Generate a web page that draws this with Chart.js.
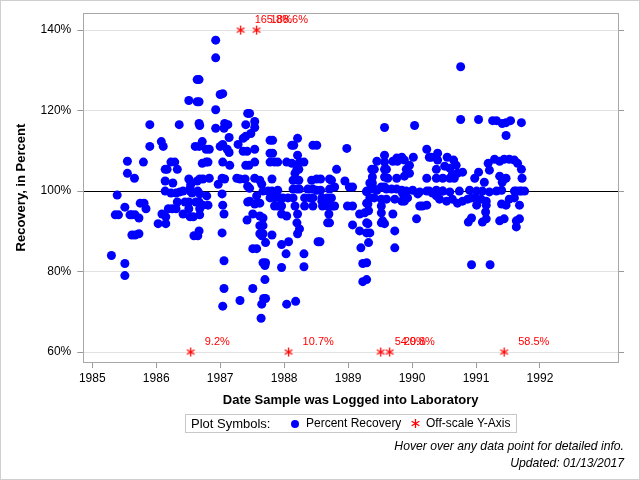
<!DOCTYPE html>
<html>
<head>
<meta charset="utf-8">
<script src="https://cdn.jsdelivr.net/npm/chart.js@4/dist/chart.umd.min.js"></script>
<style>
  body { margin: 0; background: #fff; font-family: "Liberation Sans", Arial, sans-serif; }
  #wrap { position: relative; width: 640px; height: 480px; overflow: hidden; }
  #chart { position: absolute; left: 0; top: 0; }
  #frame { position: absolute; left: 0; top: 0; width: 638px; height: 478px; border: 1px solid #cfcfcf; pointer-events: none; }
  #legend { position: absolute; left: 185px; top: 414px; width: 330px; height: 17px; border: 1px solid #c8c8c8;
            font-size: 12px; line-height: 17px; white-space: nowrap; }
  #legend span { position: absolute; top: 0; }
  #legend .dot { width: 8px; height: 8px; border-radius: 50%; background: #0000ff; top: 5px; }
  #legend canvas { position: absolute; top: 3px; }
  .note { position: absolute; right: 16px; font-size: 12.2px; font-style: italic; color: #000; }
</style>
</head>
<body>
<div id="wrap">
  <canvas id="chart" width="640" height="480"></canvas>
  <div id="legend">
    <span style="left:5px; font-size:13px">Plot Symbols:</span>
    <span class="dot" style="left:105px"></span>
    <span style="left:120px">Percent Recovery</span>
    <canvas id="legAst" width="11" height="11" style="left:224px"></canvas>
    <span style="left:240px">Off-scale Y-Axis</span>
  </div>
  <div class="note" style="top:439px">Hover over any data point for detailed info.</div>
  <div class="note" style="top:456px">Updated: 01/13/2017</div>
  <div id="frame"></div>
</div>
<script>
// Sample log date (decimal year) and percent recovery
const logDates = [
  1985.30, 1985.39, 1985.36, 1985.41, 1985.51, 1985.51, 1985.51, 1985.62, 1985.67, 1985.73,
  1985.62, 1985.67, 1985.73, 1985.75, 1985.81, 1985.84, 1985.55, 1985.55, 1985.66, 1985.80,
  1985.90, 1985.90, 1985.59,
  1986.03, 1986.15, 1986.09, 1986.15, 1986.08, 1986.11, 1986.14, 1986.17, 1986.23, 1986.29,
  1986.33, 1986.14, 1986.26, 1986.36, 1986.14, 1986.23, 1986.31, 1986.37, 1986.42, 1986.19,
  1986.25, 1986.31, 1986.33, 1986.42, 1986.45, 1986.51,
  1986.51, 1986.64, 1986.67, 1986.64, 1986.67, 1986.67, 1986.68, 1986.61, 1986.67, 1986.72,
  1986.78, 1986.83, 1986.72, 1986.78, 1986.81, 1986.51, 1986.54, 1986.64, 1986.68, 1986.73,
  1986.83, 1986.53, 1986.65, 1986.53, 1986.56, 1986.68, 1986.79, 1986.51, 1986.53, 1986.58,
  1986.68, 1986.68, 1986.73, 1986.81, 1986.62, 1986.67, 1986.67, 1986.59, 1986.65,
  1986.93, 1986.93, 1987.00, 1987.04, 1986.93, 1986.93, 1987.07, 1987.12, 1987.06, 1987.14,
  1987.00, 1987.04, 1987.11, 1987.14, 1987.04, 1987.15, 1986.97, 1987.03, 1987.07, 1987.03,
  1987.26, 1987.31, 1987.39, 1987.28, 1987.36, 1987.40, 1987.36, 1987.42, 1987.40, 1987.43,
  1987.40, 1987.45, 1987.43, 1987.04, 1987.06, 1987.03, 1987.06, 1987.06, 1987.04, 1987.31,
  1987.43, 1987.42,
  1987.46, 1987.54, 1987.54, 1987.48, 1987.78, 1987.82, 1988.21, 1988.12, 1988.15, 1988.45,
  1988.51, 1988.98, 1989.57, 1987.54, 1987.78, 1987.82, 1988.21, 1987.54, 1987.78, 1987.85,
  1987.90, 1988.04, 1988.12, 1988.24, 1988.31, 1988.20, 1988.23, 1988.17, 1988.82, 1987.54,
  1987.62, 1987.65, 1987.81, 1988.14, 1988.23, 1988.43, 1988.51, 1988.57, 1988.71, 1988.74,
  1988.95, 1989.02, 1989.07, 1987.67, 1987.75, 1987.81, 1987.90, 1988.14, 1988.20, 1988.24,
  1988.37, 1988.45, 1988.51, 1988.57, 1988.71, 1988.79, 1987.46, 1987.57, 1987.54, 1987.62,
  1987.46, 1987.78, 1987.85, 1987.93, 1987.98, 1988.06, 1988.14, 1987.85, 1987.90, 1987.96,
  1988.17, 1988.32, 1988.45, 1988.60, 1988.68, 1988.76, 1988.79, 1988.32, 1988.40, 1988.45,
  1988.59, 1988.67, 1988.74, 1988.59, 1988.71, 1987.51, 1987.62, 1987.67, 1987.62, 1987.67,
  1987.62, 1987.67, 1987.65, 1987.81, 1987.71, 1987.51, 1987.57, 1987.96, 1988.04, 1988.21,
  1988.20, 1988.24, 1988.21, 1988.07, 1987.96, 1988.03, 1988.31, 1987.96, 1988.31, 1988.53,
  1988.56, 1988.70, 1988.68, 1988.71, 1987.67, 1987.71, 1987.70, 1987.70, 1987.51, 1987.68,
  1987.71, 1987.65, 1988.04, 1988.18, 1987.64, 1988.99, 1989.07,
  1989.45, 1989.57, 1989.57, 1989.70, 1989.76, 1989.77, 1989.37, 1989.41, 1989.57, 1989.60,
  1989.38, 1989.57, 1989.62, 1989.34, 1989.38, 1989.52, 1989.57, 1989.76, 1989.29, 1989.37,
  1989.41, 1989.68, 1989.76, 1989.29, 1989.45, 1989.60, 1989.34, 1989.41, 1989.52, 1989.60,
  1989.73, 1989.29, 1989.31, 1989.52, 1989.52, 1989.54, 1989.52, 1989.57, 1989.18, 1989.26,
  1989.32, 1989.07, 1989.18, 1989.29, 1989.31, 1989.29, 1989.34, 1989.32, 1989.20, 1989.23,
  1989.29, 1989.23, 1989.29, 1989.70, 1989.73, 1989.73,
  1990.04, 1990.76, 1990.76, 1991.04, 1991.26, 1991.32, 1991.41, 1991.47, 1991.54, 1991.71,
  1991.47, 1990.23, 1990.27, 1990.30, 1990.40, 1990.40, 1990.55, 1990.65, 1990.02, 1989.88,
  1989.96, 1989.84, 1990.38, 1990.51, 1990.59, 1990.69, 1990.63, 1990.71, 1990.79, 1989.91,
  1989.96, 1989.88, 1990.23, 1990.38, 1990.48, 1990.59, 1990.66, 1991.04, 1990.98, 1991.13,
  1991.21, 1991.19, 1991.29, 1991.37, 1991.44, 1991.52, 1991.60, 1991.65, 1991.71, 1991.72,
  1991.37, 1991.47, 1991.41,
  1989.84, 1989.91, 1990.01, 1990.12, 1990.27, 1990.38, 1990.48, 1990.59, 1990.74, 1990.90,
  1991.01, 1991.10, 1991.21, 1991.32, 1991.40, 1991.60, 1991.68, 1991.76,
  1989.85, 1989.88, 1989.84, 1989.93, 1990.09, 1990.23, 1990.12, 1990.16, 1990.23, 1990.07,
  1990.43, 1990.54, 1990.63, 1990.71, 1990.79, 1990.87, 1990.93, 1991.01, 1991.08, 1991.16,
  1991.01, 1991.16, 1991.15, 1991.16, 1991.10, 1990.93, 1990.88, 1991.40, 1991.47, 1991.52,
  1991.60, 1991.63, 1991.71, 1991.68, 1991.37, 1991.44, 1991.63, 1991.68, 1991.63, 1990.93,
  1991.22, 1990.32, 1990.38, 1990.48
];
const recovery = [
  84.0, 99.0, 94.1, 94.1, 96.0, 82.0, 79.0, 94.1, 94.1, 93.3,
  89.1, 89.1, 89.4, 97.0, 97.0, 95.6, 107.4, 104.4, 103.2, 107.2,
  116.5, 111.1, 94.1,
  91.9, 91.9, 94.3, 93.6, 112.3, 111.1, 105.4, 105.4, 107.2, 107.2,
  105.4, 102.5, 102.0, 116.5, 100.0, 99.5, 99.5, 99.8, 100.0, 95.6,
  95.6, 95.6, 97.3, 94.3, 97.3, 97.3,
  122.5, 127.7, 127.7, 122.2, 122.2, 116.8, 116.3, 111.1, 111.1, 112.3,
  110.4, 110.4, 106.9, 107.2, 107.2, 103.0, 101.7, 102.5, 103.0, 103.0,
  103.2, 100.0, 100.0, 100.7, 99.5, 99.3, 98.8, 95.6, 93.6, 93.6,
  94.1, 95.6, 96.5, 96.5, 97.3, 97.3, 90.1, 88.9, 88.9,
  137.5, 133.1, 124.0, 124.2, 120.2, 115.6, 116.8, 116.5, 115.6, 113.3,
  111.1, 111.6, 110.4, 109.6, 107.2, 106.4, 101.7, 103.2, 103.0, 99.3,
  103.2, 103.0, 103.0, 111.6, 113.1, 113.6, 109.9, 109.9, 116.5, 119.3,
  106.4, 106.4, 101.2, 96.5, 94.3, 89.6, 82.7, 75.8, 71.4, 72.8,
  97.3, 92.8,
  119.3, 117.3, 115.8, 114.3, 112.6, 112.6, 113.1, 111.4, 111.4, 111.4,
  111.4, 110.6, 115.8, 110.4, 109.4, 109.4, 108.9, 107.2, 107.2, 107.2,
  107.2, 107.2, 106.9, 107.2, 107.2, 105.4, 105.4, 104.4, 105.4, 103.2,
  102.7, 101.7, 103.0, 102.7, 102.7, 102.7, 103.0, 103.0, 103.0, 102.7,
  102.5, 101.0, 101.0, 100.0, 100.0, 100.0, 100.2, 100.5, 100.5, 100.5,
  100.5, 100.5, 100.2, 100.2, 100.5, 101.0, 100.7, 98.8, 96.8, 97.0,
  97.5, 98.3, 98.3, 98.3, 98.3, 98.3, 98.3, 96.3, 96.3, 96.3,
  96.3, 96.3, 96.3, 96.3, 96.3, 96.3, 96.3, 98.3, 98.3, 98.3,
  98.3, 98.3, 98.3, 97.5, 97.0, 94.3, 93.8, 93.3, 91.4, 91.4,
  89.4, 89.4, 88.9, 89.1, 87.2, 85.7, 85.7, 94.3, 93.8, 94.3,
  92.1, 90.6, 89.4, 87.4, 86.7, 84.4, 84.4, 81.0, 81.2, 87.4,
  87.4, 94.3, 92.1, 92.1, 82.2, 82.2, 81.5, 78.0, 75.8, 73.3,
  73.3, 71.9, 71.9, 72.6, 68.4, 96.3, 96.3,
  107.4, 108.9, 107.2, 107.4, 108.2, 107.4, 105.4, 105.4, 105.4, 105.4,
  103.5, 103.5, 103.2, 102.0, 102.0, 101.0, 101.0, 103.2, 100.0, 100.5,
  100.5, 100.5, 100.5, 99.8, 100.2, 100.5, 98.3, 98.3, 98.0, 98.0,
  98.0, 97.0, 96.8, 96.3, 94.6, 92.6, 92.1, 91.9, 94.3, 94.6,
  95.1, 91.6, 90.1, 92.1, 91.9, 89.6, 89.6, 87.2, 85.9, 82.0,
  82.2, 77.5, 78.0, 94.3, 90.1, 85.9,
  116.3, 130.9, 117.8, 117.8, 117.5, 117.5, 116.8, 117.0, 117.5, 117.0,
  113.8, 110.4, 108.4, 108.4, 109.4, 107.7, 108.4, 107.7, 108.4, 107.7,
  106.4, 108.4, 105.4, 106.2, 105.7, 106.4, 104.2, 104.4, 104.7, 105.4,
  104.4, 103.7, 103.2, 103.2, 103.2, 103.2, 103.2, 104.7, 103.2, 102.2,
  105.2, 106.9, 107.9, 107.4, 107.9, 107.9, 107.7, 106.9, 105.4, 103.2,
  103.7, 103.2, 102.2,
  100.2, 100.0, 100.2, 99.8, 100.0, 100.2, 100.0, 99.8, 100.0, 100.2,
  100.0, 100.0, 99.8, 100.0, 100.2, 100.0, 100.0, 100.0,
  99.5, 97.5, 97.5, 98.3, 99.3, 100.0, 96.3, 96.3, 96.5, 93.1,
  98.0, 97.5, 98.0, 97.0, 97.5, 98.0, 98.3, 98.0, 98.0, 97.5,
  96.5, 96.5, 94.8, 93.1, 92.3, 93.3, 92.3, 96.8, 96.5, 98.0,
  98.3, 100.0, 100.0, 96.5, 92.6, 93.1, 92.6, 93.1, 91.1, 81.7,
  81.7, 99.5, 98.8, 100.0
];

// Off-scale results: real recovery value, drawn at the axis limit
const offDates = [1987.32, 1987.57, 1986.54, 1988.07, 1989.51, 1989.65, 1991.44];
const offValues = [165.8, 188.6, 9.2, 10.7, 54.9, 20.8, 58.5];

const yTicks = [60, 80, 100, 120, 140];
const xTicks = [1985, 1986, 1987, 1988, 1989, 1990, 1991, 1992];

const font = '"Liberation Sans", Arial, sans-serif';

function asterisk(canvas, color) {
  const g = canvas.getContext('2d');
  g.strokeStyle = color;
  g.lineWidth = 1.3;
  const r = 4.5, cx = 5.5, cy = 5.5;
  g.beginPath();
  for (const a of [90, 30, -30]) {
    const dx = r * Math.cos(a * Math.PI / 180), dy = r * Math.sin(a * Math.PI / 180);
    g.moveTo(cx - dx, cy - dy);
    g.lineTo(cx + dx, cy + dy);
  }
  g.stroke();
  return canvas;
}
const star = document.createElement('canvas');
star.width = 11; star.height = 11;
asterisk(star, '#ff0000');
asterisk(document.getElementById('legAst'), '#ff0000');

// labels next to the off-scale asterisks
const offLabels = {
  id: 'offLabels',
  afterDatasetsDraw(chart) {
    const meta = chart.getDatasetMeta(1);
    const ctx = chart.ctx;
    ctx.save();
    ctx.fillStyle = '#ff0000';
    ctx.font = '11px ' + font;
    ctx.textBaseline = 'middle';
    meta.data.forEach((pt, i) => {
      ctx.fillText(offValues[i].toFixed(1) + '%', pt.x + 14, pt.y - 10);
    });
    ctx.restore();
  }
};

const yRange = { min: 57.53, max: 144.2 };
const xRange = { min: 1984.86, max: 1993.22 };

new Chart(document.getElementById('chart'), {
  type: 'scatter',
  data: {
    datasets: [{
      label: 'Percent Recovery',
      data: logDates.map((d, i) => ({ x: d, y: recovery[i] })),
      backgroundColor: '#0000ff',
      borderWidth: 0,
      pointRadius: 4.5,
      pointHoverRadius: 5.5
    }, {
      label: 'Off-scale Y-Axis',
      data: offDates.map((d, i) => ({ x: d, y: offValues[i] > 140 ? 140 : 60 })),
      pointStyle: star,
      pointRadius: 5
    }]
  },
  options: {
    responsive: false,
    animation: false,
    layout: { padding: { left: 14, top: 9, right: 16, bottom: 72 } },
    plugins: {
      legend: { display: false },
      tooltip: {
        callbacks: {
          label: (c) => c.datasetIndex === 1
            ? offValues[c.dataIndex].toFixed(1) + '%'
            : c.parsed.x.toFixed(2) + ': ' + c.parsed.y.toFixed(1) + '%'
        }
      }
    },
    scales: {
      x: {
        type: 'linear', position: 'bottom', ...xRange,
        afterBuildTicks: (s) => { s.ticks = xTicks.map(v => ({ value: v })); },
        ticks: { color: '#000', font: { size: 12, family: font }, padding: 3, callback: v => String(v) },
        grid: { drawOnChartArea: false, tickLength: 6, tickColor: '#999' },
        border: { color: '#a8a8a8' },
        title: { display: true, text: 'Date Sample was Logged into Laboratory', color: '#000',
                 font: { size: 13, weight: 'bold', family: font }, padding: { top: 4, bottom: 0 } }
      },
      xTop: {
        type: 'linear', position: 'top', ...xRange,
        ticks: { display: false },
        grid: { display: false, drawTicks: false },
        border: { color: '#a8a8a8' }
      },
      y: {
        type: 'linear', position: 'left', ...yRange,
        afterBuildTicks: (s) => { s.ticks = yTicks.map(v => ({ value: v })); },
        ticks: { color: '#000', font: { size: 12, family: font }, padding: 6, callback: v => v + '%' },
        grid: {
          tickLength: 6,
          color: (c) => c.tick && c.tick.value === 100 ? '#000' : '#e2e2e2',
          tickColor: '#999'
        },
        border: { color: '#a8a8a8' },
        title: { display: true, text: 'Recovery, in Percent', color: '#000',
                 font: { size: 13, weight: 'bold', family: font }, padding: { top: 0, bottom: 5 } }
      },
      yRight: {
        type: 'linear', position: 'right', ...yRange,
        afterBuildTicks: (s) => { s.ticks = yTicks.map(v => ({ value: v })); },
        ticks: { display: false },
        grid: { drawOnChartArea: false, tickLength: 6, tickColor: '#999' },
        border: { color: '#a8a8a8' }
      }
    }
  },
  plugins: [offLabels]
});
</script>
</body>
</html>
